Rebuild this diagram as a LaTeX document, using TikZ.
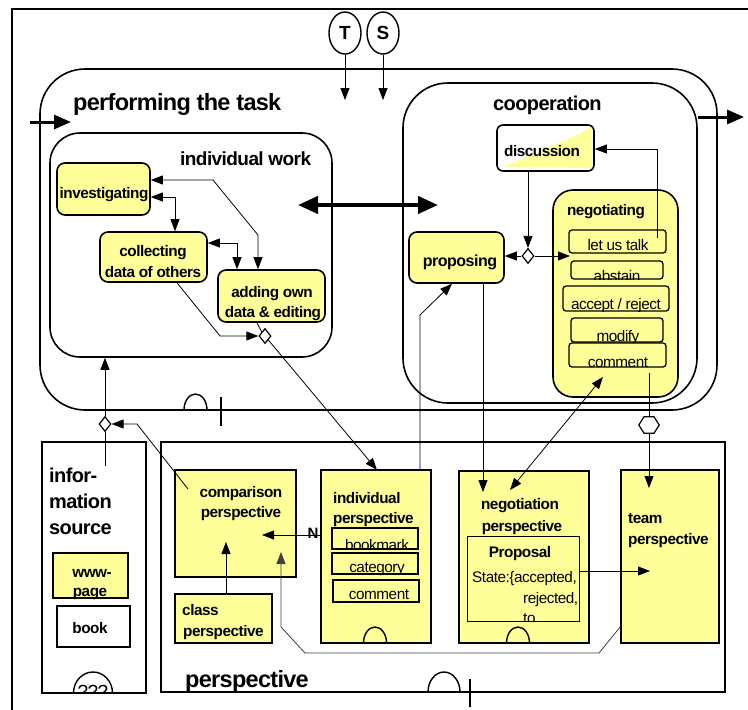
\documentclass[tikz,border=0pt]{standalone}
\usepackage{fontspec}
\setmainfont{Liberation Sans}[LetterSpace=-3]
\usetikzlibrary{arrows.meta,shapes.geometric,calc}
\definecolor{yel}{HTML}{FFFF99}
\begin{document}
\begin{tikzpicture}[x=1pt,y=-1pt,
  bt/.style={font=\fontsize{15.3}{18}\selectfont\bfseries, inner sep=0pt},
  nt/.style={font=\fontsize{15.3}{18}\selectfont, inner sep=0pt},
  box/.style={draw, line width=1.6pt, inner sep=0pt},
  ybox/.style={box, fill=yel},
  ibox/.style={draw, line width=1.3pt, inner sep=0pt, rounded corners=3pt},
  thin/.style={line width=0.8pt},
  arr/.style={thin, -{Triangle[length=12pt,width=9pt]}},
  darr/.style={thin, {Triangle[length=12pt,width=9pt]}-{Triangle[length=12pt,width=9pt]}},
  fat/.style={line width=3pt, -{Triangle[length=17pt,width=14pt]}},
  dia/.style={diamond, draw, fill=white, line width=1.2pt, minimum width=12pt, minimum height=15pt, inner sep=0pt},
  circ/.style={draw, ellipse, line width=1.4pt, minimum width=32pt, minimum height=42pt, inner sep=0pt, font=\fontsize{19}{20}\selectfont\bfseries},
  arch/.style={line width=1.4pt}
]
\useasboundingbox (0,0) rectangle (748,710);
\fill[white] (0,0) rectangle (748,710);
\draw[line width=1.2pt] (12,710) -- (12,9) -- (748,9);

% T and S
\node[circ] (T) at (345,33) {T};
\node[circ] (S) at (383,33) {S};
\coordinate (Tend) at (345,100);
\coordinate (Send) at (383,100);
\draw[arr] (T) -- (Tend);
\draw[arr] (S) -- (Send);

% performing the task
\node[box, rounded corners=45pt, minimum width=677pt, minimum height=341pt] (task) at (378.5,239.5) {};
\node[font=\fontsize{23.5}{26}\selectfont\bfseries, inner sep=0pt, anchor=base west] (taskl) at (73,110) {performing the task};
\coordinate (inA) at (30,122); \coordinate (inB) at (71,122);
\draw[fat] (inA) -- (inB);
\coordinate (outA) at (698,117); \coordinate (outB) at (744,117);
\draw[fat] (outA) -- (outB);
\draw[arch] (184,410) arc[start angle=180,end angle=360,x radius=11.5,y radius=16];
\draw[line width=1.5pt] (221,397) -- (221,426);

% cooperation
\node[box, rounded corners=45pt, minimum width=294pt, minimum height=320pt] (coop) at (550,243) {};
\node[font=\fontsize{20}{22}\selectfont\bfseries, inner sep=0pt, anchor=base west] (coopl) at (493,110) {cooperation};

% individual work
\node[box, rounded corners=30pt, minimum width=282pt, minimum height=224pt] (iw) at (191,245) {};
\node[font=\fontsize{19}{21}\selectfont\bfseries, inner sep=0pt, anchor=base west] (iwl) at (180,165) {individual work};

\node[ybox, rounded corners=8pt, minimum width=93pt, minimum height=52pt] (inv) at (103.5,189) {};
\node[bt, anchor=base] (invl) at (104,198) {investigating};
\node[ybox, rounded corners=8pt, minimum width=107pt, minimum height=50pt] (col) at (153.5,257) {};
\node[bt, anchor=base] (coll1) at (153,256) {collecting};
\node[bt, anchor=base] (coll2) at (153,277) {data of others};
\node[ybox, rounded corners=8pt, minimum width=107pt, minimum height=52pt] (add) at (271.5,296) {};
\node[bt, anchor=base] (addl1) at (272,297) {adding own};
\node[bt, anchor=base] (addl2) at (273,317) {data \& editing};

% double thick arrow
\coordinate (dbA) at (298,205); \coordinate (dbB) at (438,205);
\draw[line width=4pt, {Triangle[length=20pt,width=17pt]}-{Triangle[length=20pt,width=17pt]}] (dbA) -- (dbB);

% cooperation contents
\node[box, fill=white, rounded corners=6pt, minimum width=97pt, minimum height=46pt] (disc) at (545.5,148) {};
\fill[yel] (504,167) .. controls (540,150) and (570,140) .. (591,127) -- (592,168) -- cycle;
\node[bt, anchor=base] (discl) at (542,156) {discussion};

\node[ybox, rounded corners=20pt, minimum width=125pt, minimum height=207pt] (neg) at (615.5,293.5) {};
\node[bt, anchor=base] (negl) at (606,215) {negotiating};
\node[ibox, minimum width=97pt, minimum height=23pt] (talk) at (617.5,241.5) {};
\node[ibox, minimum width=92pt, minimum height=18pt] (abst) at (617,270) {};
\node[ibox, minimum width=106pt, minimum height=25pt] (accr) at (616,298.5) {};
\node[ibox, minimum width=92pt, minimum height=24pt] (modi) at (617,330) {};
\node[ibox, minimum width=97pt, minimum height=24pt] (comm) at (617.5,355) {};
\node[nt, anchor=base] (talkl) at (618,250) {let us talk};
\begin{scope}\clip (abst.south west) rectangle (abst.north east);
\node[nt, anchor=base] (abstl) at (617,281) {abstain};\end{scope}
\begin{scope}\clip (accr.south west) rectangle (accr.north east);
\node[nt, anchor=base] (accrl) at (616,309) {accept / reject};\end{scope}
\begin{scope}\clip (modi.south west) rectangle (modi.north east);
\node[nt, anchor=base] (modil) at (618,341) {modify};\end{scope}
\begin{scope}\clip (comm.south west) rectangle (comm.north east);
\node[nt, anchor=base] (comml) at (618,367) {comment};\end{scope}

\node[ybox, rounded corners=8pt, minimum width=95pt, minimum height=51pt] (prop) at (456.5,257.5) {};
\node[font=\fontsize{16}{18}\selectfont\bfseries, inner sep=0pt, anchor=base] (propl) at (460,266) {proposing};

% info source
\node[box, minimum width=104pt, minimum height=251pt] (info) at (94,567.5) {};
\node[font=\fontsize{20}{22}\selectfont\bfseries, inner sep=0pt, anchor=base west] (inf1) at (49,482) {infor-};
\node[font=\fontsize{20}{22}\selectfont\bfseries, inner sep=0pt, anchor=base west] (inf2) at (49,508) {mation};
\node[font=\fontsize{20}{22}\selectfont\bfseries, inner sep=0pt, anchor=base west] (inf3) at (49,534) {source};
\node[ybox, line width=1.4pt, minimum width=75pt, minimum height=45pt] (www) at (90.5,575.5) {};
\node[bt, anchor=base] (wwwl1) at (92,577) {www-};
\node[bt, anchor=base] (wwwl2) at (90,596) {page};
\node[box, line width=1.4pt, fill=white, minimum width=73pt, minimum height=41pt] (book) at (93.5,626.5) {};
\node[bt, anchor=base] (bookl) at (90,633) {book};
\draw[arch] (73.5,693) arc[start angle=180,end angle=360,x radius=19.5,y radius=21];
\begin{scope}\clip (info.south west) rectangle (info.north east);
\node[font=\fontsize{19}{20}\selectfont, inner sep=0pt, anchor=base] (qq) at (93,698) {???};\end{scope}

% perspective
\node[box, minimum width=564pt, minimum height=250pt] (persp) at (443,567) {};
\node[font=\fontsize{23.5}{26}\selectfont\bfseries, inner sep=0pt, anchor=base west] (perspl) at (185,687) {perspective};
\draw[line width=2.5pt] (185,692) -- (308,692);
\draw[arch] (428,692) arc[start angle=180,end angle=360,x radius=16,y radius=20];
\draw[line width=1.5pt] (470,679) -- (470,707);

\node[ybox, minimum width=121pt, minimum height=107pt] (comp) at (235.5,523.5) {};
\node[bt, anchor=base] (compl1) at (241,497) {comparison};
\node[bt, anchor=base] (compl2) at (241,517) {perspective};
\node[ybox, minimum width=97pt, minimum height=49pt] (class) at (223.5,618.5) {};
\node[bt, anchor=base west] (classl1) at (182,615) {class};
\node[bt, anchor=base west] (classl2) at (183,636) {perspective};

\node[ybox, minimum width=110pt, minimum height=173pt] (indiv) at (376,556.5) {};
\node[bt, anchor=base west] (indivl1) at (333,503) {individual};
\node[bt, anchor=base west] (indivl2) at (333,523) {perspective};
\node[draw, line width=1.1pt, inner sep=0pt, minimum width=86pt, minimum height=21pt] (bkm) at (375,538.5) {};
\node[draw, line width=1.1pt, inner sep=0pt, minimum width=86pt, minimum height=21pt] (cat) at (375,563.5) {};
\node[draw, line width=1.1pt, inner sep=0pt, minimum width=86pt, minimum height=22pt] (cmt) at (376,591) {};
\begin{scope}\clip (bkm.south west) rectangle (bkm.north east);
\node[nt, anchor=base] (bkml) at (377,550) {bookmark};\end{scope}
\node[nt, anchor=base] (catl) at (377,572) {category};
\node[nt, anchor=base] (cmtl) at (379,599) {comment};
\draw[arch] (363.5,643) arc[start angle=180,end angle=360,x radius=11.5,y radius=16];

\node[ybox, minimum width=130pt, minimum height=172pt] (negp) at (524,557) {};
\node[bt, anchor=base] (negpl1) at (520,509) {negotiation};
\node[bt, anchor=base] (negpl2) at (522,531) {perspective};
\node[draw, line width=0.8pt, inner sep=0pt, minimum width=112pt, minimum height=85pt] (propsl) at (523,578.5) {};
\node[bt, anchor=base] (propsll) at (520,557) {Proposal};
\node[nt, anchor=base west] (st1) at (472,582) {State:\{accepted,};
\node[nt, anchor=base west] (st2) at (523,603) {rejected,};
\begin{scope}\clip (propsl.south west) rectangle (propsl.north east);
\node[nt, anchor=base west] (st3) at (523,623) {to};\end{scope}
\draw[arch] (506.5,643) arc[start angle=180,end angle=360,x radius=11.5,y radius=16];

\node[ybox, minimum width=98pt, minimum height=173pt] (team) at (670,556.5) {};
\node[bt, anchor=base west] (teaml1) at (628,523) {team};
\node[bt, anchor=base west] (teaml2) at (628,544) {perspective};

% diamonds and hexagon
\node[dia] (d1) at (265,336) {};
\node[dia] (d2) at (528,256) {};
\node[dia] (d3) at (105,424) {};
\node[inner sep=0pt, minimum width=20pt, minimum height=16pt] (hex) at (649,425) {};
\draw[line width=1.2pt, fill=white] (hex.west) -- ($(hex.north)+(-5,0)$) -- ($(hex.north)+(5,0)$) -- (hex.east) -- ($(hex.south)+(5,0)$) -- ($(hex.south)+(-5,0)$) -- cycle;

% connectors in individual work
\coordinate (k1) at (213,180); \coordinate (k2) at (258,235);
\draw[darr] (inv.east |- 0,180) -- (k1) -- (k2) -- (add.north -| 258,0);
\coordinate (k3) at (175,197);
\draw[darr] (inv.east |- 0,197) -- (k3) -- (col.north -| 175,0);
\coordinate (k4) at (237,243);
\draw[darr] (col.east |- 0,243) -- (k4) -- (add.north -| 237,0);
\coordinate (c1) at (220,336);
\draw[arr] (col.south -| 177,0) -- (c1) -- (d1.west);
\draw[thin] (add.south -| 257,0) -- (d1.north west);
\coordinate (indT) at (377,470);
\draw[arr] (d1) -- (indT);

% connectors in cooperation
\draw[arr] (disc.south -| 528,0) -- (d2.north);
\draw[arr] (d2.west) -- (prop.east |- d2);
\coordinate (talkL) at (570,256);
\draw[arr] (d2.east) -- (talkL);
\coordinate (k5) at (657,238); \coordinate (k6) at (657,149);
\draw[arr] (k5) -- (k6) -- (disc.east |- k6);
\coordinate (k7) at (483,492);
\draw[arr] (prop.south -| 483,0) -- (k7);
\coordinate (k8) at (420,315);
\draw[arr] (indiv.north -| 420,0) -- (k8) -- (prop.south -| 452,0);
\coordinate (k9) at (510,490); \coordinate (k10) at (603,377);
\draw[darr] (k9) -- (k10);
\coordinate (k11) at (649,373); \coordinate (k12) at (649,488);
\draw[thin] (k11) -- (hex.north);
\draw[arr] (hex.south) -- (k12);

% info source connectors
\coordinate (k13) at (105,466);
\draw[thin] (k13) -- (d3.south);
\draw[arr] (d3.north) -- (iw.south -| 105,0);
\coordinate (k14) at (188,489); \coordinate (k15) at (137,424);
\draw[arr] (k14) -- (k15) -- (d3.east);

% perspective connectors
\coordinate (k16) at (226,542);
\draw[arr] (class.north -| 226,0) -- (k16);
\coordinate (k17) at (262,535);
\draw[arr] (indiv.west |- 0,535) -- (k17);
\node[font=\fontsize{15}{16}\selectfont\bfseries, inner sep=0pt, anchor=base] (Nl) at (313,538) {N};
\coordinate (p1) at (599,653); \coordinate (p2) at (305,653); \coordinate (p3) at (281,627); \coordinate (p4) at (281,552);
\draw[arr, black!75] (team.west |- 0,627) -- (p1) -- (p2) -- (p3) -- (p4);
\coordinate (k18) at (650,571);
\draw[arr] (propsl.east |- 0,571) -- (k18);
\end{tikzpicture}
\end{document}
